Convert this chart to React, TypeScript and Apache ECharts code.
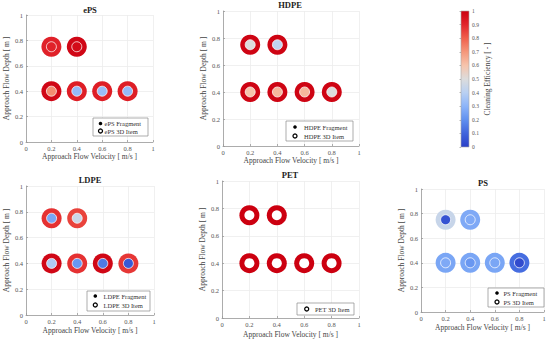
import React, { useEffect, useRef } from "react";
import * as echarts from "echarts";

// Shared test positions
const VELOCITY = [0.2, 0.4, 0.2, 0.4, 0.6, 0.8];
const DEPTH = [0.75, 0.75, 0.4, 0.4, 0.4, 0.4];

// Cleaning efficiency per material
const EPS_ITEM = [0.91, 0.98, 0.98, 0.92, 0.92, 0.92];
const EPS_FRAG = [0.91, 0.97, 0.72, 0.32, 0.33, 0.32];
const HDPE_ITEM = [0.99, 0.99, 0.99, 0.99, 0.99, 0.99];
const HDPE_FRAG = [0.5, 0.42, 0.6, 0.63, 0.63, 0.5];
const LDPE_ITEM = [0.88, 0.85, 0.98, 0.88, 0.98, 0.87];
const LDPE_FRAG = [0.26, 0.45, 0.38, 0.22, 0.15, 0.07];
const PET_ITEM = [1, 1, 1, 1, 1, 1];
const PS_ITEM = [0.44, 0.27, 0.26, 0.26, 0.26, 0.12];
const PS_FRAG = [0.05, 0.27, 0.27, 0.22, 0.26, 0.03];

const AXIS_TICKS = [0, 0.2, 0.4, 0.6, 0.8, 1];
const COLORBAR_TICKS = [0, 0.1, 0.2, 0.3, 0.4, 0.5, 0.6, 0.7, 0.8, 0.9, 1];
const COLORMAP = [
  "#2a40c8", "#4064dc", "#6090ef", "#8cb4f9", "#b9d0f2", "#dcdcdc",
  "#f6c4ac", "#f5977a", "#f0604c", "#e2252c", "#cc0010",
];

const FONT = "Liberation Serif";

const PANELS = [
  { name: "ePS", item: EPS_ITEM, frag: EPS_FRAG, grid: { left: 26, top: 15, width: 127, height: 127 }, ng: 16, xg: 10,
    legend: { x: 93, y: 118, w: 55, h: 18 }, rows: [123.5, 131], sx: 100.5, tx: 104.5, title: [90, 10] },
  { name: "HDPE", item: HDPE_ITEM, frag: HDPE_FRAG, grid: { left: 223, top: 11, width: 136, height: 135 }, ng: 16, xg: 10,
    legend: { x: 286, y: 121, w: 67, h: 20 }, rows: [127, 136], sx: 295, tx: 304, title: [290, 5] },
  { name: "LDPE", item: LDPE_ITEM, frag: LDPE_FRAG, grid: { left: 26, top: 186, width: 128, height: 129 }, ng: 16, xg: 11,
    legend: { x: 87, y: 291, w: 63, h: 20 }, rows: [296, 305], sx: 95.3, tx: 103.5, title: [90, 180] },
  { name: "PET", item: PET_ITEM, frag: null, grid: { left: 222, top: 181, width: 137, height: 137 }, ng: 16, xg: 12,
    legend: { x: 297, y: 303, w: 57, h: 12 }, rows: [309], sx: 306.7, tx: 315, title: [290, 175] },
  { name: "PS", item: PS_ITEM, frag: PS_FRAG, grid: { left: 421, top: 189, width: 123, height: 123 }, ng: 14, xg: 11,
    legend: { x: 488, y: 288, w: 56, h: 19 }, rows: [293, 302], sx: 497, tx: 503.5, title: [483, 183] },
];

const CB = { left: 461, top: 11, width: 8, height: 136 };

export default function App() {
  const ref = useRef<HTMLDivElement>(null);
  useEffect(() => {
    if (!ref.current) return;
    const chart = echarts.init(ref.current, undefined, { renderer: "svg" });

    const grids: any[] = [];
    const xAxes: any[] = [];
    const yAxes: any[] = [];
    const series: any[] = [];
    const vmSeries: number[] = [];
    const graphics: any[] = [];

    const axisCommon = {
      type: "value",
      min: 0,
      max: 1,
      interval: 0.2,
      nameLocation: "middle",
      nameTextStyle: { fontFamily: FONT, fontSize: 7.5, color: "#444" },
      axisLine: { show: true, lineStyle: { color: "#9a9a9a", width: 0.8 } },
      axisTick: { show: true, inside: true, length: 2, lineStyle: { color: "#9a9a9a", width: 0.8 } },
      axisLabel: {
        fontFamily: FONT, fontSize: 6.5, color: "#555", margin: 3,
        formatter: (v: number) => (AXIS_TICKS.includes(+v.toFixed(1)) ? String(+v.toFixed(1)) : ""),
      },
      splitLine: { show: true, lineStyle: { color: "#ececec", width: 0.8 } },
    };

    PANELS.forEach((p, i) => {
      grids.push({ ...p.grid, containLabel: false });
      xAxes.push({ ...axisCommon, gridIndex: i, name: "Approach Flow Velocity [ m/s ]", nameGap: p.xg });
      yAxes.push({ ...axisCommon, gridIndex: i, name: "Approach Flow Depth [ m ]", nameGap: p.ng });

      series.push({
        type: "scatter",
        name: `${p.name} 3D Item`,
        xAxisIndex: i,
        yAxisIndex: i,
        symbol: "circle",
        symbolSize: 20,
        itemStyle: { opacity: 1 },
        data: VELOCITY.map((v, k) => [v, DEPTH[k], p.item[k]]),
        z: 2,
      });
      vmSeries.push(series.length - 1);
      if (p.frag) {
        series.push({
          type: "scatter",
          name: `${p.name} Fragment`,
          xAxisIndex: i,
          yAxisIndex: i,
          symbol: "circle",
          symbolSize: 10,
          itemStyle: { opacity: 1, borderColor: "rgba(255,255,255,0.75)", borderWidth: 1 },
          data: VELOCITY.map((v, k) => [v, DEPTH[k], p.frag![k]]),
          z: 3,
        });
        vmSeries.push(series.length - 1);
      } else {
        // hollow centre of the 3D item ring
        series.push({
          type: "scatter",
          name: `${p.name} hole`,
          xAxisIndex: i,
          yAxisIndex: i,
          symbol: "circle",
          symbolSize: 10,
          itemStyle: { color: "#ffffff", opacity: 1 },
          data: VELOCITY.map((v, k) => [v, DEPTH[k]]),
          z: 3,
        });
      }

      // title
      graphics.push({
        type: "text",
        x: p.title[0],
        y: p.title[1],
        style: { text: p.name, fontFamily: FONT, fontSize: 8.5, fontWeight: "bold", fill: "#222", align: "center", verticalAlign: "middle" },
      });
      // legend
      const L = p.legend;
      graphics.push({
        type: "rect",
        shape: { x: L.x, y: L.y, width: L.w, height: L.h },
        style: { fill: "#fff", stroke: "#8a8a8a", lineWidth: 0.7 },
        z: 10,
      });
      const entries = p.frag
        ? [{ t: `${p.name} Fragment`, filled: true }, { t: `${p.name} 3D Item`, filled: false }]
        : [{ t: `${p.name} 3D Item`, filled: false }];
      entries.forEach((e, r) => {
        const cy = p.rows[r];
        graphics.push({
          type: "circle",
          shape: { cx: p.sx, cy, r: e.filled ? 1.8 : 2 },
          style: e.filled ? { fill: "#000" } : { fill: "none", stroke: "#000", lineWidth: 1.3 },
          z: 11,
        });
        graphics.push({
          type: "text",
          x: p.tx,
          y: cy,
          style: { text: e.t, fontFamily: FONT, fontSize: 6.5, fill: "#333", verticalAlign: "middle" },
          z: 11,
        });
      });
    });

    // colorbar axis grid
    const cbi = PANELS.length;
    grids.push({ ...CB });
    xAxes.push({ type: "value", gridIndex: cbi, show: false, min: 0, max: 1 });
    yAxes.push({
      type: "value",
      gridIndex: cbi,
      position: "right",
      min: 0,
      max: 1,
      interval: 0.1,
      name: "Cleaning Efficiency [ - ]",
      nameLocation: "middle",
      nameGap: 14,
      nameTextStyle: { fontFamily: FONT, fontSize: 7.5, color: "#444" },
      axisLine: { show: false },
      splitLine: { show: false },
      axisTick: { show: true, inside: true, length: 1.5, lineStyle: { color: "#888", width: 0.6 } },
      axisLabel: {
        fontFamily: FONT, fontSize: 5.5, color: "#555", margin: 3,
        formatter: (v: number) => String(COLORBAR_TICKS.find((t) => Math.abs(t - v) < 1e-6) ?? ""),
      },
    });
    graphics.push({
      type: "rect",
      shape: { x: CB.left, y: CB.top, width: CB.width, height: CB.height },
      style: {
        fill: new echarts.graphic.LinearGradient(0, 1, 0, 0,
          COLORMAP.map((c, k) => ({ offset: k / (COLORMAP.length - 1), color: c }))),
        stroke: "#aaa",
        lineWidth: 0.6,
      },
      z: -1,
    });

    chart.setOption({
      animation: false,
      backgroundColor: "#ffffff",
      textStyle: { fontFamily: FONT },
      grid: grids,
      xAxis: xAxes,
      yAxis: yAxes,
      visualMap: {
        type: "continuous",
        show: false,
        min: 0,
        max: 1,
        dimension: 2,
        seriesIndex: vmSeries,
        inRange: { color: COLORMAP },
      },
      series,
      graphic: graphics,
    });
    return () => chart.dispose();
  }, []);
  return <div ref={ref} style={{ position: "fixed", left: 0, top: 0, width: 550, height: 343 }} />;
}
